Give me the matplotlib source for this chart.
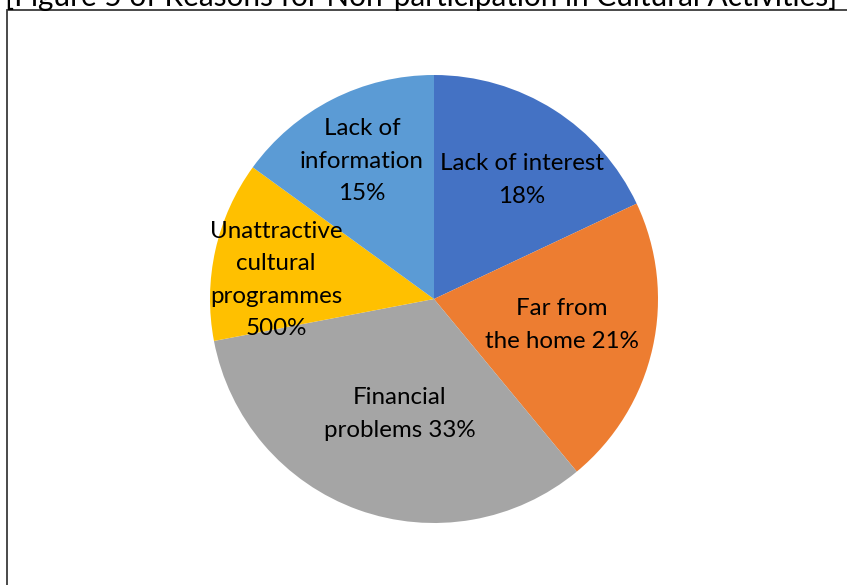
import matplotlib.pyplot as plt
from matplotlib.patches import Rectangle

# Reasons for non-participation, clockwise from 12 o'clock
reasons = ["Lack of interest", "Far from the home", "Financial problems",
           "Unattractive cultural programmes", "Lack of information"]
shares = [18, 21, 33, 13, 15]
slice_labels = ["Lack of interest\n18%", "Far from\nthe home 21%", "Financial\nproblems 33%",
                "Unattractive\ncultural\nprogrammes\n500%", "Lack of\ninformation\n15%"]
colors = ["#4472C4", "#ED7D31", "#A5A5A5", "#FFC000", "#5B9BD5"]
title = "[Figure 5 of Reasons for Non-participation in Cultural Activities]"

plt.rcParams['font.family'] = ['Lato', 'DejaVu Sans']

W, H = 847, 585
fig = plt.figure(figsize=(W / 100, H / 100), dpi=100)

# caption sits above the frame, mostly clipped by the page edge
fig.text(5 / W, 1 - 6 / H, title, fontsize=21.4, ha='left', va='baseline')

# chart frame (runs off the right and bottom edges)
fig.patches.append(Rectangle((7 / W, -0.1), 1.2, 1 - 10 / H + 0.1,
                             transform=fig.transFigure, fill=False,
                             edgecolor='#3a3a3a', linewidth=1.3))

# pie centred at (434, 299) px with radius 224 px
cx, cy, r = 434, 299, 224
ax = fig.add_axes([(cx - r) / W, 1 - (cy + r) / H, 2 * r / W, 2 * r / H])
ax.pie(shares, colors=colors, startangle=90, counterclock=False,
       wedgeprops=dict(linewidth=0))
ax.set_xlim(-1, 1)
ax.set_ylim(-1, 1)
ax.set_aspect('equal')

# label centres in pixel coordinates
label_px = [(522, 180), (562, 325), (400, 414), (276, 280), (362, 161)]
for text, (px, py) in zip(slice_labels, label_px):
    ax.text((px - cx) / r, (cy - py) / r, text, ha='center', va='center',
            fontsize=17.4, color='black', linespacing=1.65)

fig.savefig("out.png", dpi=100)
